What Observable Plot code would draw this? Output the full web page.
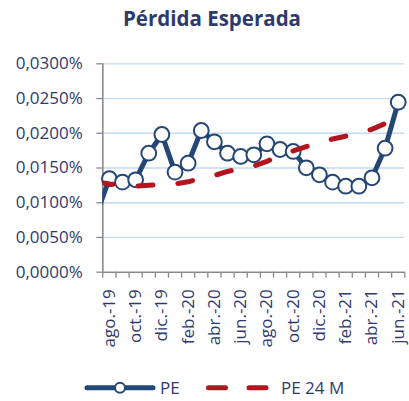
<!DOCTYPE html>
<html>
<head>
<meta charset="utf-8">
<script src="https://cdn.jsdelivr.net/npm/d3@7"></script>
<script src="https://cdn.jsdelivr.net/npm/@observablehq/plot@0.6"></script>
<style>
  body { margin: 0; background: #fff; font-family: "Open Sans", sans-serif; color: #2f3a6c; }
  #wrap { position: relative; width: 409px; height: 401px; overflow: hidden; }
  #title { position: absolute; left: 15px; right: 0; top: 0; height: 36px; line-height: 36px;
           text-align: center; font-weight: 700; font-size: 20.5px; color: #2f3a6c; }
  #chart { position: absolute; left: 0; top: 36px; }
  #legend { position: absolute; left: 0; top: 370px; width: 409px; height: 31px; }
  .lg { position: absolute; font-size: 17px; line-height: 20px; top: 8px; color: #2f3a6c; }
</style>
</head>
<body>
<div id="wrap">
  <div id="title">Pérdida Esperada</div>
  <div id="chart"></div>
  <div id="legend"></div>
</div>
<script>
// Meses (eje categórico)
const months = ["ago.-19","sep.-19","oct.-19","nov.-19","dic.-19","ene.-20","feb.-20","mar.-20",
  "abr.-20","may.-20","jun.-20","jul.-20","ago.-20","sep.-20","oct.-20","nov.-20","dic.-20",
  "ene.-21","feb.-21","mar.-21","abr.-21","may.-21","jun.-21"];
// Pérdida esperada mensual (%)
const pe = [0.01345,0.01296,0.0133,0.01713,0.01982,0.0144,0.01569,0.0204,0.01877,0.01713,0.01666,
  0.0169,0.01848,0.01766,0.01738,0.01503,0.01402,0.01296,0.01238,0.01238,0.01359,0.01785,0.02447];
// Pérdida esperada promedio 24 meses (%)
const pe24 = [0.0127,0.01251,0.01238,0.01251,0.01263,0.01271,0.01301,0.01356,0.01392,0.0145,0.01494,
  0.01529,0.01594,0.01687,0.01745,0.01807,0.01867,0.01917,0.01958,0.02005,0.02058,0.0214,0.0224];
// Mes previo (jul.-19), fuera del área visible (recortado en el eje)
const prevPE = 0.0082;
const prevPE24 = 0.0130;
// Marcas del eje Y
const yTicks = [0, 0.005, 0.01, 0.015, 0.02, 0.025, 0.03];

const navy = "#244776";
const red = "#b3151f";
const textColor = "#2f3a6c";
const axisGray = "#8a8a8a";
const gridBlue = "#c6d9f0";

const rows = [{i: -1, pe: prevPE, pe24: prevPE24}]
  .concat(months.map((m, i) => ({i, pe: pe[i], pe24: pe24[i]})));
const visible = rows.filter(d => d.i >= 0);

const fmt = d => d.toFixed(4).replace(".", ",") + "%";

const chart = Plot.plot({
  width: 409,
  height: 326,
  marginLeft: 102.3,
  marginRight: 4.7,
  marginTop: 27.3,
  marginBottom: 90.3,
  style: {fontFamily: "Open Sans, sans-serif", fontSize: "17px", color: textColor, background: "white"},
  x: {type: "linear", domain: [-0.5, months.length - 0.5], axis: null, label: null},
  y: {domain: [0, 0.03], axis: null, label: null},
  marks: [
    Plot.gridY(yTicks.filter(d => d > 0), {stroke: gridBlue, strokeOpacity: 1, strokeWidth: 1.3}),
    Plot.axisY(yTicks, {tickSize: 6, tickPadding: 14, tickFormat: fmt, stroke: axisGray, fill: textColor,
      strokeWidth: 1.3, fontSize: 17, label: null}),
    Plot.axisX(d3.range(-0.5, months.length, 1), {tickSize: 6, tickFormat: () => "", stroke: axisGray,
      strokeWidth: 1.3, label: null}),
    Plot.axisX(d3.range(0, months.length, 2), {tickSize: 0, tickPadding: 17, tickRotate: -90,
      tickFormat: i => months[i], fill: textColor, fontSize: 17, label: null}),
    Plot.ruleX([-0.5], {stroke: axisGray, strokeWidth: 1.6}),
    Plot.ruleY([0], {stroke: axisGray, strokeWidth: 1.6}),
    Plot.line(rows, {x: "i", y: "pe", stroke: navy, strokeWidth: 5, clip: true}),
    Plot.dot(visible, {x: "i", y: "pe", r: 7.4, fill: "white", stroke: navy, strokeWidth: 2}),
    Plot.line(rows, {x: "i", y: "pe24", stroke: red, strokeWidth: 5, strokeLinecap: "round",
      strokeDasharray: "15,25", strokeDashoffset: -2, clip: true})
  ]
});
document.getElementById("chart").appendChild(chart);

// Leyenda
const legend = document.getElementById("legend");
legend.innerHTML = `
<svg width="409" height="31" style="position:absolute;left:0;top:0">
  <line x1="87" x2="153" y1="17.7" y2="17.7" stroke="${navy}" stroke-width="5" stroke-linecap="round"/>
  <circle cx="120" cy="17.7" r="5" fill="white" stroke="${navy}" stroke-width="2"/>
  <line x1="208.5" x2="225.5" y1="17.7" y2="17.7" stroke="${red}" stroke-width="5" stroke-linecap="round"/>
  <line x1="249" x2="266" y1="17.7" y2="17.7" stroke="${red}" stroke-width="5" stroke-linecap="round"/>
</svg>
<div class="lg" style="left:160px">PE</div>
<div class="lg" style="left:281px">PE 24 M</div>`;
</script>
</body>
</html>
